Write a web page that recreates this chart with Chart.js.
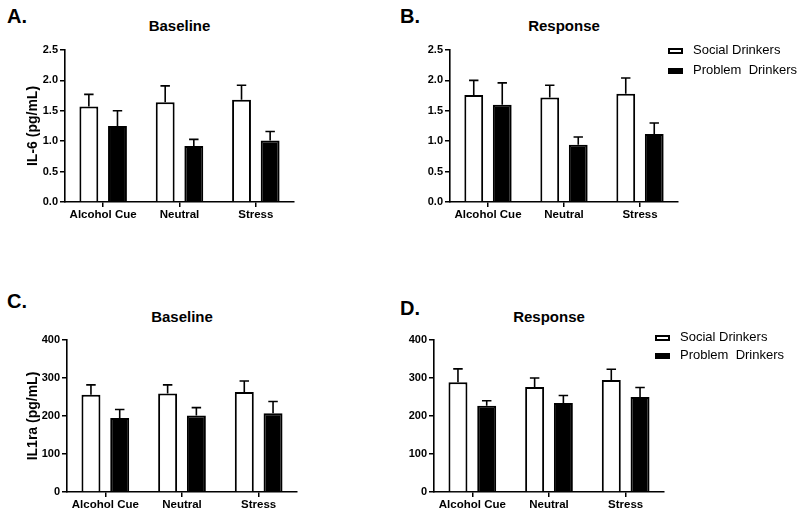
<!DOCTYPE html>
<html>
<head>
<meta charset="utf-8">
<title>IL-6 and IL1ra</title>
<script src="https://cdn.jsdelivr.net/npm/chart.js@4.4.1/dist/chart.umd.min.js"></script>
<style>
    body { margin: 0; background: #fff; font-family: "Liberation Sans", Arial, sans-serif; color: #000; }
    #page { position: relative; width: 800px; height: 516px; overflow: hidden; }
    .panel { position: absolute; }
    .letter { position: absolute; font-size: 20px; font-weight: bold; line-height: 20px; }
    .title { position: absolute; font-size: 15px; font-weight: bold; line-height: 20px; text-align: center; }
    .legend-row { position: absolute; height: 16px; line-height: 16px; font-size: 13px; white-space: pre; }
    .swatch { position: absolute; left: 0; top: 6px; width: 15px; height: 6px; box-sizing: border-box; border: 2px solid #000; }
    .legend-row .label { position: absolute; left: 25px; top: 0; }
</style>
</head>
<body>
<div id="page">
    <div class="letter" style="left:7px; top:6px;">A.</div>
    <div class="letter" style="left:400px; top:6px;">B.</div>
    <div class="letter" style="left:7px; top:291px;">C.</div>
    <div class="letter" style="left:400px; top:298px;">D.</div>

    <div class="title" style="left:65px; width:229px; top:16px;">Baseline</div>
    <div class="title" style="left:450px; width:228px; top:16px;">Response</div>
    <div class="title" style="left:67px; width:230px; top:307px;">Baseline</div>
    <div class="title" style="left:434px; width:230px; top:307px;">Response</div>

    <div class="panel" style="left:0px; top:0px; width:300px; height:230px;"><canvas id="chartA"></canvas></div>
    <div class="panel" style="left:400px; top:0px; width:284px; height:230px;"><canvas id="chartB"></canvas></div>
    <div class="panel" style="left:0px; top:260px; width:303px; height:256px;"><canvas id="chartC"></canvas></div>
    <div class="panel" style="left:400px; top:260px; width:270px; height:256px;"><canvas id="chartD"></canvas></div>

    <div id="legendB"></div>
    <div id="legendD"></div>
</div>

<script>
// ============================================
// DATA (errors are the upper SEM bar)
// ============================================
const categories = ["Alcohol Cue", "Neutral", "Stress"];
const seriesNames = ["Social Drinkers", "Problem  Drinkers"];

const il6Ticks = [0, 0.5, 1.0, 1.5, 2.0, 2.5];
const il1raTicks = [0, 100, 200, 300, 400];

// A. IL-6 baseline
const il6BaseSocial = [1.57, 1.64, 1.68];
const il6BaseSocialErr = [0.20, 0.27, 0.24];
const il6BaseProblem = [1.25, 0.92, 1.01];
const il6BaseProblemErr = [0.25, 0.11, 0.15];

// B. IL-6 response
const il6RespSocial = [1.76, 1.72, 1.78];
const il6RespSocialErr = [0.24, 0.20, 0.26];
const il6RespProblem = [1.60, 0.94, 1.12];
const il6RespProblemErr = [0.36, 0.13, 0.18];

// C. IL1ra baseline
const il1raBaseSocial = [256, 259, 263];
const il1raBaseSocialErr = [26, 23, 29];
const il1raBaseProblem = [195, 201, 207];
const il1raBaseProblemErr = [22, 21, 31];

// D. IL1ra response
const il1raRespSocial = [289, 276, 295];
const il1raRespSocialErr = [35, 24, 28];
const il1raRespProblem = [227, 234, 250];
const il1raRespProblemErr = [13, 20, 25];

const BAR_FILLS = ["#ffffff", "#000000"];

Chart.defaults.font.family = '"Liberation Sans", Arial, sans-serif';
Chart.defaults.color = "#000";

// ============================================
// ERROR BAR PLUGIN (upper bar + cap only)
// ============================================
const errorBarPlugin = {
    id: "errorBars",
    afterDatasetsDraw(chart) {
        const ctx = chart.ctx;
        const yScale = chart.scales.y;
        ctx.save();
        ctx.strokeStyle = "#000";
        ctx.lineWidth = 1.6;
        chart.data.datasets.forEach((ds, i) => {
            const meta = chart.getDatasetMeta(i);
            meta.data.forEach((bar, j) => {
                const top = yScale.getPixelForValue(ds.data[j] + ds.errors[j]);
                const half = bar.width / 4;
                ctx.beginPath();
                ctx.moveTo(bar.x, bar.y);
                ctx.lineTo(bar.x, top);
                ctx.moveTo(bar.x - half, top);
                ctx.lineTo(bar.x + half, top);
                ctx.stroke();
            });
        });
        ctx.restore();
    }
};

// ============================================
// PANEL BUILDER
// ============================================
function makePanel(canvasId, cfg) {
    const datasets = [cfg.social, cfg.problem].map((values, i) => ({
        label: seriesNames[i],
        data: values,
        errors: cfg.errors[i],
        backgroundColor: BAR_FILLS[i],
        borderColor: "#000",
        borderWidth: 2,
        categoryPercentage: 0.75,
        barPercentage: 0.66
    }));

    return new Chart(document.getElementById(canvasId), {
        type: "bar",
        data: { labels: categories, datasets: datasets },
        plugins: [errorBarPlugin],
        options: {
            responsive: true,
            maintainAspectRatio: false,
            animation: false,
            layout: { padding: { top: cfg.padTop, right: 6, bottom: 0, left: 0 } },
            plugins: {
                legend: { display: false },
                tooltip: { enabled: false }
            },
            scales: {
                x: {
                    grid: { display: true, drawOnChartArea: false, offset: false, color: "#000", lineWidth: 1.5, tickLength: 5 },
                    border: { color: "#000", width: 1.6 },
                    ticks: { font: { size: 11.5, weight: "bold" }, padding: 1, maxRotation: 0 },
                    afterFit: s => { s.height = cfg.xHeight; }
                },
                y: {
                    min: cfg.ticks[0],
                    max: cfg.ticks[cfg.ticks.length - 1],
                    afterBuildTicks: s => { s.ticks = cfg.ticks.map(v => ({ value: v })); },
                    grid: { display: true, drawOnChartArea: false, color: "#000", lineWidth: 1.5, tickLength: 5 },
                    border: { color: "#000", width: 1.6 },
                    ticks: {
                        font: { size: 11, weight: "bold" },
                        padding: 2,
                        callback: v => cfg.decimals ? Number(v).toFixed(cfg.decimals) : v
                    },
                    title: {
                        display: !!cfg.yTitle,
                        text: cfg.yTitle || "",
                        font: { size: 14, weight: "bold" },
                        padding: { top: 25, bottom: 0 }
                    },
                    afterFit: s => { s.width = cfg.yWidth; }
                }
            }
        }
    });
}

makePanel("chartA", {
    social: il6BaseSocial, problem: il6BaseProblem,
    errors: [il6BaseSocialErr, il6BaseProblemErr],
    ticks: il6Ticks, decimals: 1, yTitle: "IL-6 (pg/mL)",
    yWidth: 65, padTop: 50, xHeight: 28
});
makePanel("chartB", {
    social: il6RespSocial, problem: il6RespProblem,
    errors: [il6RespSocialErr, il6RespProblemErr],
    ticks: il6Ticks, decimals: 1, yTitle: null,
    yWidth: 50, padTop: 50, xHeight: 28
});
makePanel("chartC", {
    social: il1raBaseSocial, problem: il1raBaseProblem,
    errors: [il1raBaseSocialErr, il1raBaseProblemErr],
    ticks: il1raTicks, decimals: 0, yTitle: "IL1ra (pg/mL)",
    yWidth: 67, padTop: 80, xHeight: 24
});
makePanel("chartD", {
    social: il1raRespSocial, problem: il1raRespProblem,
    errors: [il1raRespSocialErr, il1raRespProblemErr],
    ticks: il1raTicks, decimals: 0, yTitle: null,
    yWidth: 34, padTop: 80, xHeight: 24
});

// ============================================
// LEGENDS (B and D)
// ============================================
function buildLegend(id, left, tops) {
    const holder = document.getElementById(id);
    seriesNames.forEach((name, i) => {
        const row = document.createElement("div");
        row.className = "legend-row";
        row.style.left = left + "px";
        row.style.top = tops[i] + "px";
        row.innerHTML = `<span class="swatch" style="background:${BAR_FILLS[i]}"></span><span class="label">${name}</span>`;
        holder.appendChild(row);
    });
}

buildLegend("legendB", 668, [42, 62]);
buildLegend("legendD", 655, [329, 347]);
</script>
</body>
</html>
